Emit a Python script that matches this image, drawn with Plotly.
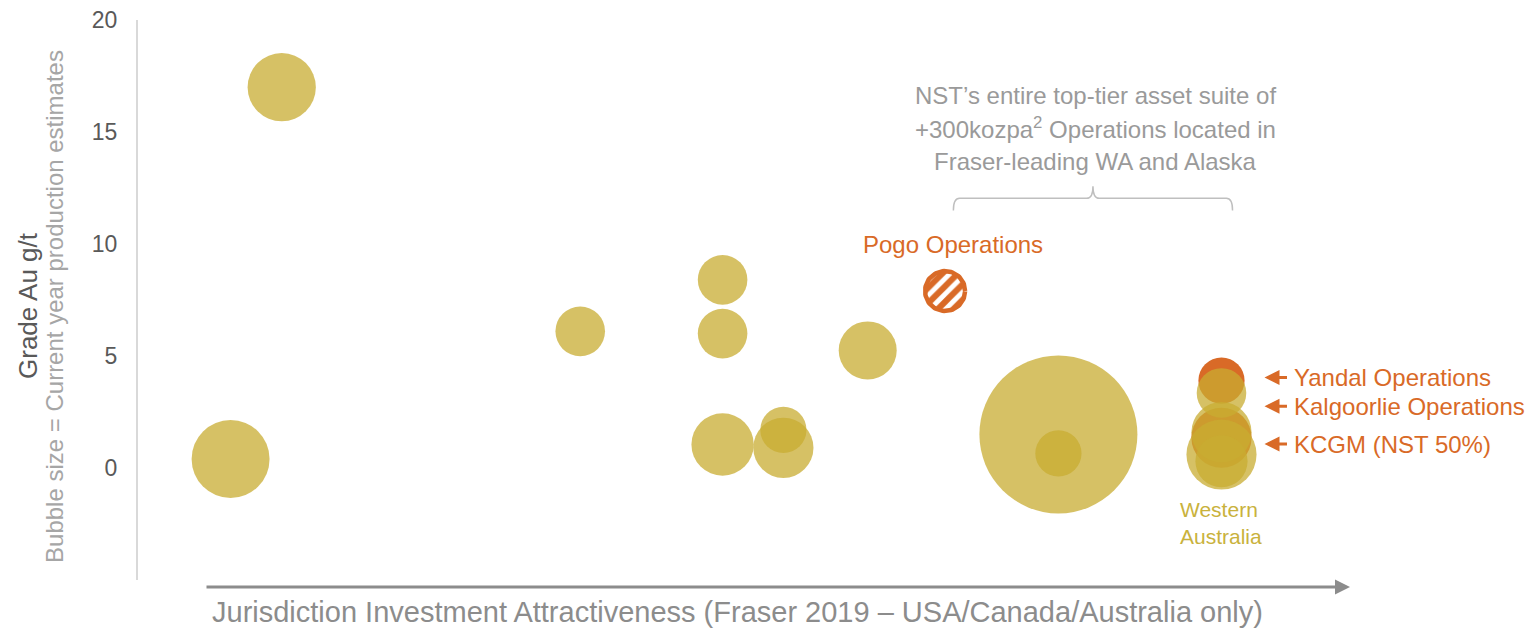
import numpy as np
import plotly.graph_objects as go

# ---------------- data ----------------
# Peer operations (yellow bubbles): jurisdiction score (x), grade g/t (y), production koz (bubble size)
peer_x = [10.4, 6.7, 32.0, 42.3, 42.3, 42.3, 46.7, 46.7, 52.8, 66.6, 66.6, 78.4, 78.4, 78.4, 78.4]
peer_y = [17.0, 0.4, 6.1, 8.4, 6.0, 1.05, 1.7, 0.9, 5.25, 1.5, 0.65, 3.35, 1.6, 0.6, 0.3]
peer_koz = [360, 470, 190, 190, 190, 300, 165, 280, 260, 1930, 165, 190, 280, 380, 210]

# NST operations (orange)
nst_names = ["Yandal Operations", "KCGM (NST 50%)"]
nst_x = [78.4, 78.4]
nst_y = [3.9, 1.35]
nst_koz = [165, 280]

pogo_name = "Pogo Operations"
pogo_x = 58.4
pogo_y = 7.9
pogo_koz = 150

label_names = ["Yandal Operations", "Kalgoorlie Operations", "KCGM (NST 50%)"]
label_y = [4.04, 2.76, 1.07]

y_ticks = [0, 5, 10, 15, 20]

# ---------------- styling ----------------
W, H = 1527, 630
ML, MR, MT, MB = 138, 7, 18, 50
X_RANGE = [0, 100]
Y_RANGE = [-5, 20]
pw = W - ML - MR
ph = H - MT - MB
px_x = pw / (X_RANGE[1] - X_RANGE[0])
px_y = ph / (Y_RANGE[1] - Y_RANGE[0])


def paper_x(sx):
    return (sx - ML) / pw


def paper_y(sy):
    return (H - MB - sy) / ph


YELLOW = "rgba(200,172,50,0.75)"
ORANGE = "#D96A27"
GOLD_TEXT = "#C9B23C"
GREY = "#9a9a9a"
FONT = "Liberation Sans, Arial, sans-serif"

D_MAX = 158
all_koz = peer_koz + nst_koz + [pogo_koz]
sizeref = 2.0 * max(all_koz) / (D_MAX ** 2)

fig = go.Figure()

# NST orange bubbles (under the translucent peers)
fig.add_trace(go.Scatter(
    x=nst_x, y=nst_y, mode="markers", name="NST",
    text=nst_names,
    marker=dict(size=nst_koz, sizemode="area", sizeref=sizeref, opacity=1,
                color=ORANGE, line=dict(width=0)),
))

# peers
fig.add_trace(go.Scatter(
    x=peer_x, y=peer_y, mode="markers", name="Peers",
    marker=dict(size=peer_koz, sizemode="area", sizeref=sizeref, opacity=1,
                color=YELLOW, line=dict(width=0)),
))

# Pogo: hatched circle
r_px = (D_MAX / 2) * np.sqrt(pogo_koz / max(all_koz)) - 2
t = np.linspace(0, 2 * np.pi, 90)
fig.add_trace(go.Scatter(
    x=pogo_x + r_px / px_x * np.cos(t),
    y=pogo_y + r_px / px_y * np.sin(t),
    mode="lines", fill="toself", name=pogo_name,
    line=dict(color=ORANGE, width=4.5),
    fillcolor="white",
    fillpattern=dict(shape="/", fgcolor=ORANGE, bgcolor="white", size=11,
                     solidity=0.55, fgopacity=1),
))

annotations = []

# Pogo label
annotations.append(dict(x=pogo_x + 0.6, y=9.96, xref="x", yref="y", text=pogo_name,
                        showarrow=False, font=dict(family=FONT, size=24, color=ORANGE)))

# Right-side labels with arrows
tip_x = nst_x[0] + (1265 - 1222) / px_x
text_x = nst_x[0] + (1293 - 1222) / px_x
for nm, yy in zip(label_names, label_y):
    annotations.append(dict(x=tip_x, y=yy, xref="x", yref="y", text="",
                            showarrow=True, ax=24, ay=0, arrowhead=2, arrowsize=1,
                            arrowwidth=3, arrowcolor=ORANGE, standoff=0))
    annotations.append(dict(x=text_x, y=yy, xref="x", yref="y", text=nm, xanchor="left",
                            showarrow=False, font=dict(family=FONT, size=24, color=ORANGE)))

# Western Australia
annotations.append(dict(x=nst_x[0], y=-2.44, xref="x", yref="y",
                        text="Western<br>Australia", showarrow=False, align="left",
                        font=dict(family=FONT, size=21, color=GOLD_TEXT)))

# Top callout
callout = ["NST’s entire top-tier asset suite of",
           "+300kozpa<sup>2</sup> Operations located in",
           "Fraser-leading WA and Alaska"]
for i, line in enumerate(callout):
    annotations.append(dict(x=69.3, y=16.65 - i * 1.49, xref="x", yref="y", text=line,
                            showarrow=False, font=dict(family=FONT, size=24, color=GREY)))

# Brace
x0 = pogo_x + 0.6
x1 = nst_x[0] + 0.8
xc = (x0 + x1) / 2
yb, yh, yp = 11.5, 12.04, 12.58
rr = 0.45
brace = (f"M {x0},{yb} Q {x0},{yh} {x0+rr},{yh} L {xc-rr},{yh} Q {xc},{yh} {xc},{yp} "
         f"Q {xc},{yh} {xc+rr},{yh} L {x1-rr},{yh} Q {x1},{yh} {x1},{yb}")
fig.add_shape(type="path", path=brace, xref="x", yref="y",
              line=dict(color="#bfbfbf", width=1.5))

# Y axis titles
annotations.append(dict(x=paper_x(28), y=paper_y(305), xref="paper", yref="paper",
                        xanchor="center", yanchor="middle",
                        text="Grade Au g/t", textangle=-90,
                        showarrow=False, font=dict(family=FONT, size=26, color="#595959")))
annotations.append(dict(x=paper_x(55), y=paper_y(306), xref="paper", yref="paper",
                        xanchor="center", yanchor="middle",
                        text="Bubble size = Current year production estimates", textangle=-90,
                        showarrow=False, font=dict(family=FONT, size=24, color="#a6a6a6")))

# Bottom arrow (x axis)
annotations.append(dict(x=paper_x(1350), y=paper_y(587), xref="paper", yref="paper",
                        text="", showarrow=True, ax=-(1350 - 205), ay=0,
                        arrowhead=2, arrowsize=1, arrowwidth=3, arrowcolor="#8c8c8c", standoff=0))
annotations.append(dict(x=paper_x(737), y=paper_y(612), xref="paper", yref="paper",
                        xanchor="center", yanchor="middle",
                        text="Jurisdiction Investment Attractiveness (Fraser 2019 – USA/Canada/Australia only)",
                        showarrow=False, font=dict(family=FONT, size=29, color="#8c8c8c")))

fig.update_layout(
    width=W, height=H,
    margin=dict(l=ML, r=MR, t=MT, b=MB),
    plot_bgcolor="white", paper_bgcolor="white",
    showlegend=False,
    annotations=annotations,
    xaxis=dict(range=X_RANGE, visible=False, showgrid=False, zeroline=False),
    yaxis=dict(range=Y_RANGE, tickvals=y_ticks, showgrid=False, zeroline=False,
               showline=True, linecolor="#d9d9d9", linewidth=2,
               ticks="outside", ticklen=14, tickcolor="rgba(0,0,0,0)",
               ticklabeloverflow="allow",
               tickfont=dict(family=FONT, size=23, color="#595959")),
)

fig.write_html("out.html",
               config={"displayModeBar": False},
               post_script="document.body.style.margin='0';document.body.style.overflow='hidden';")
